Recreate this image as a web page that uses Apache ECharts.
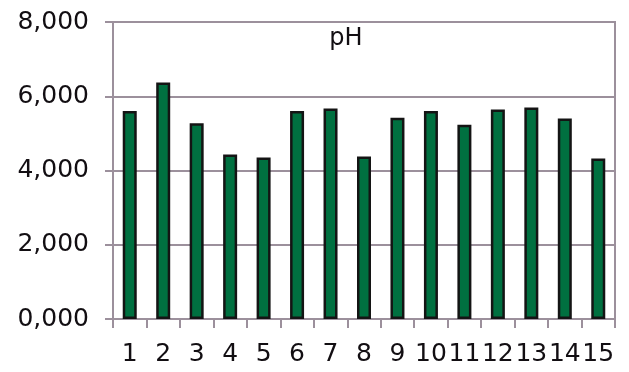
<!DOCTYPE html>
<html>
<head>
<meta charset="utf-8">
<script src="https://cdn.jsdelivr.net/npm/echarts@6/dist/echarts.min.js"></script>
<style>
html,body{margin:0;padding:0;background:#fff;}
#c{width:629px;height:372px;}
</style>
</head>
<body>
<div id="c"></div>
<script>
const categories = ['1','2','3','4','5','6','7','8','9','10','11','12','13','14','15'];
const phValues = [5.60, 6.37, 5.27, 4.43, 4.35, 5.60, 5.67, 4.38, 5.42, 5.60, 5.23, 5.64, 5.70, 5.40, 4.32];
const titleText = 'pH';

const lineColor = '#9c909c';
const textColor = '#120e12';
const font = 'DejaVu Sans';

const chart = echarts.init(document.getElementById('c'), null, {renderer: 'canvas'});
chart.setOption({
  animation: false,
  backgroundColor: '#fff',
  title: {
    text: titleText,
    left: 341,
    top: 22,
    textAlign: 'center',
    textStyle: {fontFamily: font, fontSize: 24, fontWeight: 'normal', color: textColor}
  },
  grid: {
    left: 113, right: 14, top: 22, bottom: 53,
    show: true, borderColor: lineColor, borderWidth: 2, backgroundColor: 'transparent'
  },
  xAxis: {
    type: 'category',
    data: categories,
    boundaryGap: true,
    axisLine: {lineStyle: {color: lineColor, width: 2}},
    axisTick: {show: true, alignWithLabel: false, length: 9, inside: false, lineStyle: {color: lineColor, width: 2}},
    axisLabel: {margin: 23, fontFamily: font, fontSize: 25, color: textColor, interval: 0}
  },
  yAxis: {
    type: 'value',
    min: 0, max: 8, interval: 2,
    axisLine: {show: true, lineStyle: {color: lineColor, width: 2}},
    axisTick: {show: true, length: 8, lineStyle: {color: lineColor, width: 2}},
    splitLine: {show: true, lineStyle: {color: lineColor, width: 2}},
    axisLabel: {
      margin: 24, fontFamily: font, fontSize: 25, color: textColor,
      formatter: v => v.toFixed(3).replace('.', ',')
    }
  },
  series: [{
    type: 'bar',
    data: phValues,
    barWidth: 14,
    itemStyle: {color: '#007040', borderColor: '#141414', borderWidth: 2.5}
  }]
});
</script>
</body>
</html>
